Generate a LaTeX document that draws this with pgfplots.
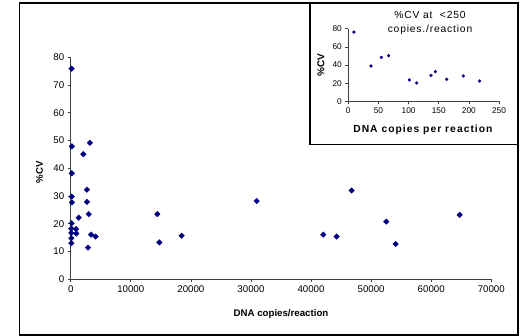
\documentclass[border=0pt]{standalone}
\usepackage{fontspec}
\setmainfont{Liberation Sans}
\newfontfamily\widefont[LetterSpace=8]{Liberation Sans}
\newfontfamily\widerfont[LetterSpace=10]{Liberation Sans}
\usepackage{pgfplots}
\pgfplotsset{compat=1.18}
\definecolor{xlnavy}{RGB}{0,0,128}
\begin{document}
\begin{tikzpicture}
\useasboundingbox (0,0) rectangle (522pt,336pt);
\fill[white] (0,0) rectangle (522pt,336pt);
\draw[line width=1.2pt] (19.5pt,1pt) rectangle (518pt,333pt);
\begin{axis}[
  at={(70.7pt,56.7pt)}, anchor=south west, scale only axis,
  width=420.6pt, height=222pt,
  xmin=0, xmax=70000, ymin=0, ymax=80,
  axis lines=left, axis line style={-, black!75, line width=0.8pt},
  xtick={0,10000,...,70000}, ytick={0,10,...,80},
  tick align=outside, major tick length=3pt,
  tick style={black!75, line width=0.6pt},
  scaled x ticks=false,
  xticklabel style={/pgf/number format/.cd, fixed, 1000 sep={}},
  /pgf/number format/assume math mode=true,
  ticklabel style={font=\fontsize{9.7}{11}\selectfont},
  clip=false,
  xlabel={DNA copies/reaction},
  ylabel={\%CV},
  xlabel style={font=\bfseries\fontsize{9.7}{11}\selectfont, at={(axis description cs:0.5,-0.156)}, anchor=center},
  ylabel style={font=\bfseries\fontsize{9.7}{11}\selectfont, at={(axis description cs:-0.0742,0.483)}, anchor=center},
]
\addplot[only marks, mark=square*, mark size=2pt, mark options={rotate=45, fill=xlnavy, draw=xlnavy, line width=0.3pt}] coordinates {
(150,75.9) (200,47.9) (180,38.2) (170,29.8) (200,27.7) (150,20.2)
(100,18.3) (100,16.7) (120,14.8) (100,13.0) (900,18.1) (930,16.5)
(1330,22.2) (2100,45.1) (3200,49.2) (2700,32.3) (2700,27.9) (3000,23.5)
(3400,16.1) (4150,15.4) (2880,11.4) (14420,23.5) (14750,13.3) (18470,15.7)
(30950,28.2) (42040,16.1) (44260,15.4) (46750,32.0) (52520,20.8)
(54080,12.7) (64730,23.2)
};
\end{axis}
\draw[fill=white, line width=1.2pt] (310pt,191.7pt) rectangle (518pt,333pt);
\node[align=center, font=\widefont\fontsize{10.3}{14}\selectfont] at (430pt,313pt) {\%CV at \ <250\\copies./reaction};
\begin{axis}[
  at={(348.3pt,234.7pt)}, anchor=south west, scale only axis,
  width=150.7pt, height=72.6pt,
  xmin=0, xmax=250, ymin=0, ymax=80,
  axis lines=left, axis line style={-, black!75, line width=0.7pt},
  xtick={0,50,...,250}, ytick={0,20,...,80},
  tick align=outside, major tick length=3pt,
  tick style={black!75, line width=0.6pt},
  /pgf/number format/assume math mode=true,
  ticklabel style={font=\fontsize{8.3}{10}\selectfont},
  clip=false,
  xlabel={DNA copies per reaction},
  ylabel={\%CV},
  xlabel style={font=\widerfont\bfseries\fontsize{10.3}{12}\selectfont, at={(axis description cs:0.495,-0.394)}, anchor=center},
  ylabel style={font=\bfseries\fontsize{10}{12}\selectfont, at={(axis description cs:-0.181,0.5)}, anchor=center},
]
\addplot[only marks, mark=square*, mark size=1.1pt, mark options={rotate=45, fill=xlnavy, draw=xlnavy, line width=0.2pt}] coordinates {
(9.4,76.3) (37.6,38.9) (54.8,48.4) (66.9,50.3) (101.2,23.5) (113.4,20.2)
(137.2,28.6) (144.4,32.7) (163.2,24.2) (190.8,27.9) (217.9,22.4)
};
\end{axis}
\end{tikzpicture}
\end{document}
